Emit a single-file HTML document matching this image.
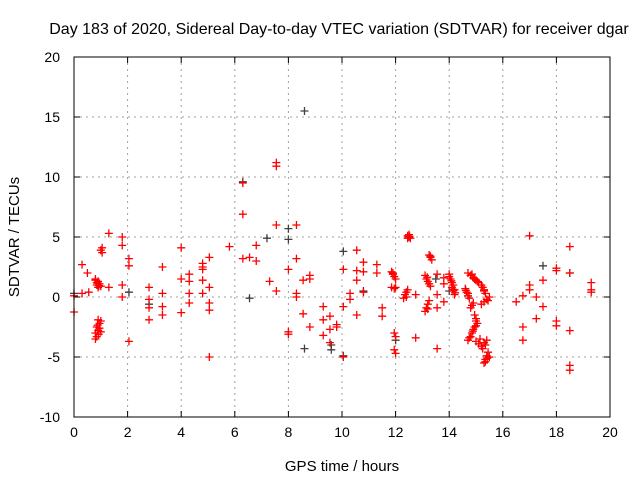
<!DOCTYPE html>
<html><head><meta charset="utf-8"><style>
body{margin:0;background:#fff}
svg text{font-family:"Liberation Sans",sans-serif;font-size:14px;fill:#000}
</style></head><body>
<svg id="chart" width="640" height="480" xmlns="http://www.w3.org/2000/svg">
<rect width="640" height="480" fill="#fff"/>
<text x="339" y="34" text-anchor="middle" style="font-size:16px">Day 183 of 2020, Sidereal Day-to-day VTEC variation (SDTVAR) for receiver dgar</text>
<g id="grid"></g>
<g id="ticks"></g>
<g id="gray"></g>
<g id="red"></g>
<rect x="74" y="57" width="536" height="360" fill="none" stroke="#000" stroke-width="1"/>
<text x="342" y="471" text-anchor="middle" style="font-size:15px">GPS time / hours</text>
<text transform="translate(19,237) rotate(-90)" text-anchor="middle" style="font-size:15px">SDTVAR / TECUs</text>
</svg>
<script>
const xTicks=[0,2,4,6,8,10,12,14,16,18,20];
const yTicks=[-10,-5,0,5,10,15,20];
const redPoints=[[0,-1.25],[0,0.1],[0.3,2.7],[0.3,0.3],[0.5,2.0],[0.55,0.4],
[0.85,1.2],[0.8,1.4],[0.85,1.0],[0.9,1.3],[0.95,1.1],[0.9,0.8],[1.0,0.9],[0.8,1.5],[0.88,1.15],[0.93,0.95],
[1.05,4.1],[1.05,3.7],[1.0,3.9],[1.3,5.3],[1.3,0.8],[1.8,5.0],[1.8,4.3],[1.8,1.0],[1.8,0.0],
[2.05,3.2],[2.05,2.6],[2.05,-3.7],
[0.9,-1.9],[0.95,-2.2],[0.85,-2.5],[0.9,-2.8],[0.8,-3.0],[0.85,-3.3],[1.0,-2.9],[0.95,-2.6],[0.8,-3.5],[1.0,-2.0],[0.88,-2.35],[0.92,-3.1],
[2.8,0.8],[2.8,-0.2],[2.8,-0.9],[2.8,-1.9],[3.3,2.5],[3.3,0.3],[3.3,-0.8],[3.3,-1.5],
[4.0,4.1],[4.0,1.5],[4.0,-1.3],[4.3,1.9],[4.3,1.3],[4.3,0.3],[4.3,-0.5],
[4.8,2.8],[4.8,2.5],[4.8,2.3],[4.8,1.4],[4.8,0.3],[5.05,3.3],[5.05,0.8],[5.05,-0.5],[5.05,-1.1],[5.05,-5.0],
[5.8,4.2],[6.3,9.5],[6.3,6.9],[6.3,3.2],[6.55,3.3],[6.8,4.3],[6.8,3.0],[7.3,1.3],
[7.55,10.9],[7.55,11.2],[7.55,6.0],[7.55,0.5],[8.0,2.3],[8.0,-2.9],[8.0,-3.1],
[8.3,6.0],[8.3,3.2],[8.3,0.3],[8.3,0.0],[8.55,1.4],[8.8,1.8],[8.8,1.5],[8.55,-1.4],[8.8,-2.5],
[9.3,-0.8],[9.3,-1.9],[9.3,-3.2],[9.55,-1.6],[9.55,-2.7],[9.55,-3.8],[9.8,-2.3],
[10.05,2.3],[10.55,3.9],[10.8,2.9],[10.8,2.1],[10.55,2.2],[10.55,1.4],[11.3,2.7],[11.3,2.0],
[10.3,0.3],[10.3,-0.2],[10.8,0.4],[10.05,-0.8],[10.55,-1.5],[11.5,-0.9],[11.5,-1.6],[9.8,-2.5],[10.05,-5.0],
[12.45,5.1],[12.5,5.0],[12.55,4.9],[12.5,5.2],[12.45,4.9],[12.52,5.05],
[13.25,3.5],[13.3,3.3],[13.35,3.1],[13.3,3.4],
[11.85,2.1],[11.9,1.9],[11.95,1.7],[12.0,1.5],[11.9,2.0],[11.85,0.8],[11.95,0.7],[12.0,0.8],
[12.3,-0.1],[12.35,0.2],[12.4,0.4],[12.45,0.6],[12.4,0.0],
[13.1,1.8],[13.15,1.5],[13.2,1.3],[13.25,1.1],[13.3,0.9],[13.18,1.65],
[13.1,-1.2],[13.15,-0.9],[13.2,-0.6],[13.25,-0.3],[13.2,-1.0],
[14.0,1.9],[14.05,1.5],[14.1,1.2],[14.1,0.8],[14.15,0.5],[14.2,0.2],[14.0,1.7],[14.15,1.0],[14.2,0.6],[14.08,1.35],[14.12,0.65],[14.22,0.35],
[14.6,0.7],[14.65,0.4],[14.7,0.1],[14.75,-0.1],[14.7,0.3],[14.62,0.55],
[14.7,2.0],[14.8,1.8],[14.9,1.6],[15.0,1.4],[15.1,1.2],[14.85,1.9],[14.95,1.5],[15.05,1.3],
[15.2,1.0],[15.25,0.8],[15.3,0.5],[15.35,0.3],[15.3,0.6],
[15.2,-0.6],[15.3,-0.4],[15.4,-0.2],[15.5,0.0],[15.45,-0.3],
[14.8,-0.9],[14.85,-0.7],[14.9,-0.5],[14.95,-1.5],[15.0,-1.8],[15.05,-2.2],[15.0,-2.0],
[14.7,-3.6],[14.8,-3.3],[14.85,-3.0],[14.9,-2.7],[15.0,-2.4],[14.75,-3.4],[14.95,-2.5],[14.88,-2.85],
[15.0,-3.7],[15.1,-3.9],[15.2,-4.1],[15.3,-3.8],[15.4,-3.6],[15.25,-4.3],[15.15,-3.5],[15.35,-4.0],
[15.3,-5.5],[15.35,-5.2],[15.4,-4.9],[15.45,-4.6],[15.5,-5.0],[15.35,-5.4],[15.42,-5.1],
[11.95,-3.0],[12.0,-3.3],[11.95,-4.4],[12.0,-4.7],
[12.75,-3.4],[13.55,-4.3],[12.75,0.2],[13.55,1.9],[13.55,0.2],[13.8,1.6],[13.8,1.1],[13.8,-0.4],[13.55,-0.9],
[16.5,-0.4],[16.75,0.1],[16.75,-2.5],[16.75,-3.6],[17.0,5.1],[17.0,1.0],[17.0,0.6],[17.25,0.0],[17.25,-1.8],
[17.5,1.4],[17.5,-0.8],[18.0,2.4],[18.0,2.2],[18.0,-2.0],[18.0,-2.4],
[18.5,4.2],[18.5,2.0],[18.5,-2.8],[18.5,-5.7],[18.5,-6.1],[19.3,1.2],[19.3,0.6],[19.3,0.4]];
const grayPoints=[[0,0.3],[2.05,0.4],[2.8,-0.6],[6.3,9.6],[6.55,-0.1],[7.2,4.9],[8.0,5.7],[8.0,4.8],
[8.6,15.5],[8.6,-4.3],[9.6,-4.0],[9.6,-4.4],[10.05,-4.9],[10.05,3.8],[10.8,0.5],[12.0,-3.6],[13.5,1.5],[14.0,0.5],[17.5,2.6],[18.5,2.0]];

const NS='http://www.w3.org/2000/svg';
const X0=74,X1=610,Y0=417,Y1=57;
function sx(v){return X0+(v-0)/(20-0)*(X1-X0);}
function sy(v){return Y0-(v-(-10))/(20-(-10))*(Y0-Y1);}
function mk(tag,attrs,parent){const e=document.createElementNS(NS,tag);for(const k in attrs)e.setAttribute(k,attrs[k]);parent.appendChild(e);return e;}
const grid=document.getElementById('grid'),ticks=document.getElementById('ticks');
xTicks.forEach(t=>{
  const x=sx(t);
  if(t>0&&t<20){const g=mk('line',{x1:x,x2:x,y1:Y1,y2:Y0,stroke:'#a0a0a0','stroke-dasharray':'2,4'},grid);
  
  }
  mk('line',{x1:x,x2:x,y1:Y0,y2:Y0-6,stroke:'#000'},ticks);
  mk('line',{x1:x,x2:x,y1:Y1,y2:Y1+6,stroke:'#000'},ticks);
  const tx=mk('text',{x:x,y:Y0+20,'text-anchor':'middle'},ticks);
  tx.textContent=t;
  
  
});
yTicks.forEach(t=>{
  const y=sy(t);
  if(t>-10&&t<20){const g=mk('line',{x1:X0,x2:X1,y1:y,y2:y,stroke:'#a0a0a0','stroke-dasharray':'2,4'},grid);
  
  }
  mk('line',{x1:X0,x2:X0+6,y1:y,y2:y,stroke:'#000'},ticks);
  mk('line',{x1:X1,x2:X1-6,y1:y,y2:y,stroke:'#000'},ticks);
  const tx=mk('text',{x:X0-14,y:y+5,'text-anchor':'end'},ticks);
  tx.textContent=t;
  
  
});
function plus(pts,g,color,name){
  pts.forEach(p=>{
    const x=sx(p[0]),y=sy(p[1]);
    const e=mk('path',{d:`M${x-4},${y}H${x+4}M${x},${y-4}V${y+4}`,stroke:color,'stroke-width':1.3,fill:'none'},g);
    
    
  });
}
plus(grayPoints,document.getElementById('gray'),'#404040','gray-point');
plus(redPoints,document.getElementById('red'),'#ff0000','red-point');
</script>
</body></html>
